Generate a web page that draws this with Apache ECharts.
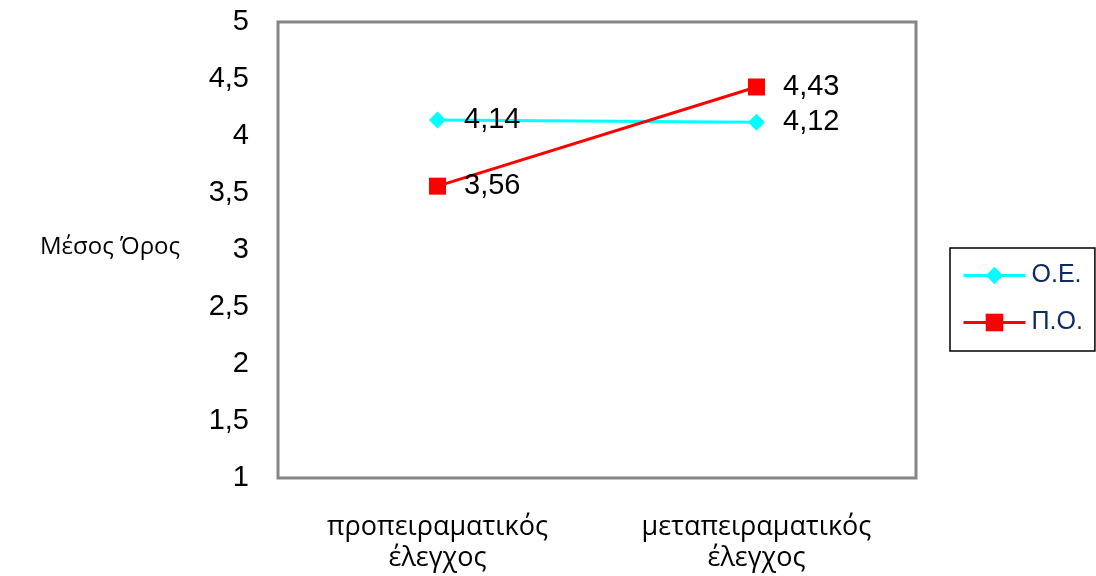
<!DOCTYPE html>
<html>
<head>
<meta charset="utf-8">
<script src="https://cdn.jsdelivr.net/npm/echarts@6/dist/echarts.min.js"></script>
<style>
  html, body { margin: 0; padding: 0; background: #ffffff; }
  #chart { width: 1096px; height: 576px; }
</style>
</head>
<body>
<div id="chart"></div>
<script>
// Mean scores before and after the intervention, per group
const categories = ['προπειραματικός\nέλεγχος', 'μεταπειραματικός\nέλεγχος'];
const seriesNames = ['Ο.Ε.', 'Π.Ο.'];
const valuesOE = [4.14, 4.12];
const valuesPO = [3.56, 4.43];
const yAxisTitle = 'Μέσος Όρος';

const numFont = 'Liberation Sans, Arial, sans-serif';
const textFont = 'Open Sans, Noto Sans, sans-serif';
const comma = v => String(v).replace('.', ',');

const chart = echarts.init(document.getElementById('chart'));

const labelCfg = {
  show: true,
  position: 'right',
  distance: 18,
  color: '#000',
  fontFamily: numFont,
  fontSize: 29,
  formatter: p => comma(p.value)
};

chart.setOption({
  animation: false,
  backgroundColor: '#ffffff',
  grid: {
    left: 278, right: 180, top: 22, bottom: 98,
    show: true,
    borderColor: '#868686',
    borderWidth: 3,
    backgroundColor: 'transparent'
  },
  xAxis: {
    type: 'category',
    data: categories,
    boundaryGap: true,
    axisLine: { show: false },
    axisTick: { show: false },
    axisLabel: {
      color: '#000',
      fontFamily: textFont,
      fontSize: 27,
      lineHeight: 31,
      margin: 34
    }
  },
  yAxis: {
    type: 'value',
    min: 1, max: 5, interval: 0.5,
    axisLine: { show: false },
    axisTick: { show: false },
    splitLine: { show: false },
    axisLabel: {
      color: '#000',
      fontFamily: numFont,
      fontSize: 29,
      margin: 29,
      formatter: v => comma(v)
    }
  },
  graphic: [{
    type: 'text',
    left: 40,
    top: 235,
    style: { text: yAxisTitle, fill: '#000', font: '24px ' + textFont }
  }],
  legend: {
    left: 950, top: 248,
    orient: 'vertical',
    padding: [15, 12, 16, 12],
    itemGap: 22,
    itemWidth: 62,
    itemHeight: 22,
    borderColor: '#000',
    borderWidth: 1.5,
    lineStyle: { width: 3 },
    textStyle: { color: '#0d2a63', fontFamily: numFont, fontSize: 25, padding: [0, 0, 0, 1] },
    data: seriesNames
  },
  series: [
    {
      name: seriesNames[0],
      type: 'line',
      data: valuesOE,
      symbol: 'diamond',
      symbolSize: 17,
      itemStyle: { color: '#00ffff' },
      lineStyle: { color: '#00ffff', width: 3 },
      label: labelCfg
    },
    {
      name: seriesNames[1],
      type: 'line',
      data: valuesPO,
      symbol: 'rect',
      symbolSize: 17,
      itemStyle: { color: '#ff0000' },
      lineStyle: { color: '#ff0000', width: 3 },
      label: labelCfg
    }
  ]
});
</script>
</body>
</html>
